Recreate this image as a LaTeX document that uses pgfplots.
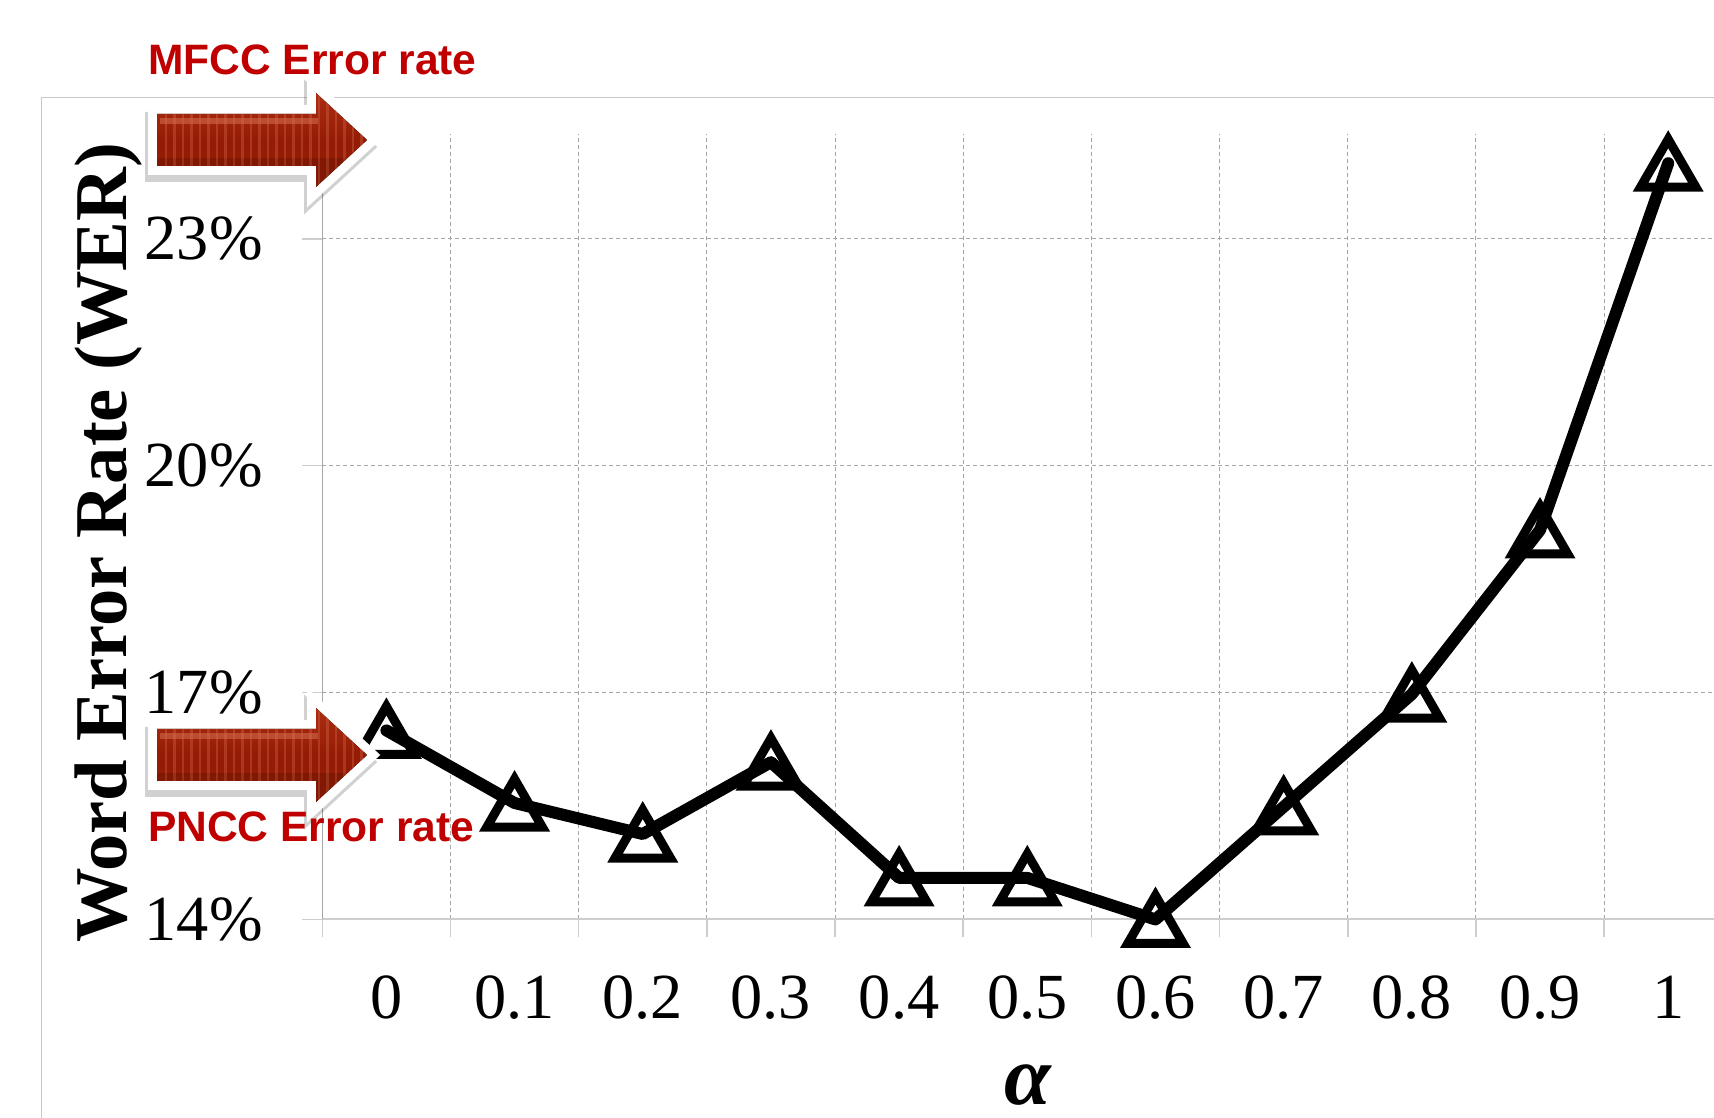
\documentclass[border=0pt]{standalone}
\usepackage{pgfplots}
\pgfplotsset{compat=1.18}
\usepackage{pgfplotstable}
\usepackage{fontspec}
\setmainfont{Liberation Serif}
\newfontfamily\arialfont{Liberation Sans}
\definecolor{annred}{RGB}{192,0,0}
\definecolor{arrowred}{RGB}{148,28,4}
\definecolor{arrowtop}{RGB}{172,45,18}
\definecolor{arrowhi}{RGB}{214,110,80}
\definecolor{gridgray}{RGB}{166,166,166}
\definecolor{axisgray}{RGB}{205,205,205}
\definecolor{bordergray}{RGB}{200,200,200}

\pgfplotstableread{
x y
0 16.50
1 15.54
2 15.13
3 16.08
4 14.55
5 14.55
6 14.00
7 15.49
8 16.98
9 19.15
10 24.00
}\werdata

\newcommand{\arrowpath}[1]{(157,#1-26) -- (316,#1-26) -- (316,#1-47) -- (367,#1) -- (316,#1+47) -- (316,#1+26) -- (157,#1+26) -- cycle}
\newcommand{\bigarrow}[1]{%
  \draw[black, opacity=0.18, line width=1.8mm, line join=miter, fill=black] [shift={(-3,7)}] \arrowpath{#1};
  \draw[white, line width=1.8mm, line join=miter, fill=white] \arrowpath{#1};
  \fill[top color=arrowtop, bottom color=arrowred, middle color=arrowred] \arrowpath{#1};
  \begin{scope}
    \clip \arrowpath{#1};
    \foreach \s in {166,174.5,...,365} {\draw[arrowhi, opacity=0.35, line width=0.22mm] (\s,#1-50) -- (\s,#1+50);}
    \fill[arrowhi, opacity=0.55] (160,#1-22) rectangle (318,#1-16);
    \fill[black, opacity=0.12] (157,#1+18) rectangle (370,#1+50);
  \end{scope}
}

\begin{document}
\begin{tikzpicture}
\useasboundingbox (0,0) rectangle (17.14cm,11.18cm);
\clip (0,0) rectangle (17.14cm,11.18cm);
\fill[white] (0,0) rectangle (17.14cm,11.18cm);
\begin{axis}[
  at={(3.223cm,1.985cm)}, anchor=south west,
  scale only axis, width=14.10cm, height=7.85cm,
  xmin=-0.5, xmax=10.5, ymin=14, ymax=24.38,
  axis x line*=bottom, axis y line*=left,
  x axis line style={-, draw=axisgray, line width=0.2mm},
  y axis line style={-, draw=gridgray, line width=0.12mm},
  xtick={0,...,10},
  xticklabels={0,0.1,0.2,0.3,0.4,0.5,0.6,0.7,0.8,0.9,1},
  minor xtick={-0.5,0.5,...,10.5},
  ytick={14,17,20,23},
  yticklabels={14\%,17\%,20\%,23\%},
  tick align=outside,
  major tick length=2mm,
  minor tick length=1.8mm,
  major x tick style={draw=none},
  minor x tick style={draw=axisgray, line width=0.15mm},
  major y tick style={draw=axisgray, line width=0.15mm},
  ymajorgrids, xminorgrids,
  major grid style={draw=gridgray, line width=0.1mm, dash pattern=on 0.4mm off 0.3mm},
  minor grid style={draw=gridgray, line width=0.1mm, dash pattern=on 0.4mm off 0.3mm},
  tick label style={font=\fontsize{18.3}{20}\selectfont, inner sep=0pt},
  yticklabel style={anchor=east, xshift=-3.9mm},
  xticklabel style={anchor=north, yshift=-3.6mm},
  clip=false,
]
\addplot[black, line width=1.2mm, line join=round, line cap=round,
  mark=triangle, mark size=9.1pt,
  mark options={solid, draw=black, line width=0.9mm, line join=miter, yshift=-0.8mm, fill=none}]
  table[x=x,y=y] {\werdata};
\end{axis}
\begin{scope}[shift={(0,11.18cm)}, x=0.1mm, y=-0.1mm]
\draw[bordergray, line width=0.15mm] (41.5,1130) -- (41.5,97.5) -- (1730,97.5);
\node[rotate=90, anchor=base, inner sep=0pt, font=\bfseries\fontsize{21.2}{24}\selectfont] at (126,542.5) {Word Error Rate (WER)};
\node[anchor=north, inner sep=0pt, font=\bfseries\itshape\fontsize{24}{28}\selectfont] at (1027.5,1064) {α};
\bigarrow{140}
\bigarrow{755}
\node[anchor=base west, inner sep=0pt, text=annred, font=\arialfont\bfseries\fontsize{12.1}{14}\selectfont] at (147.5,74.5) {MFCC Error rate};
\node[anchor=base west, inner sep=0pt, text=annred, font=\arialfont\bfseries\fontsize{12.1}{14}\selectfont] at (147.5,842) {PNCC Error rate};
\end{scope}
\end{tikzpicture}
\end{document}
